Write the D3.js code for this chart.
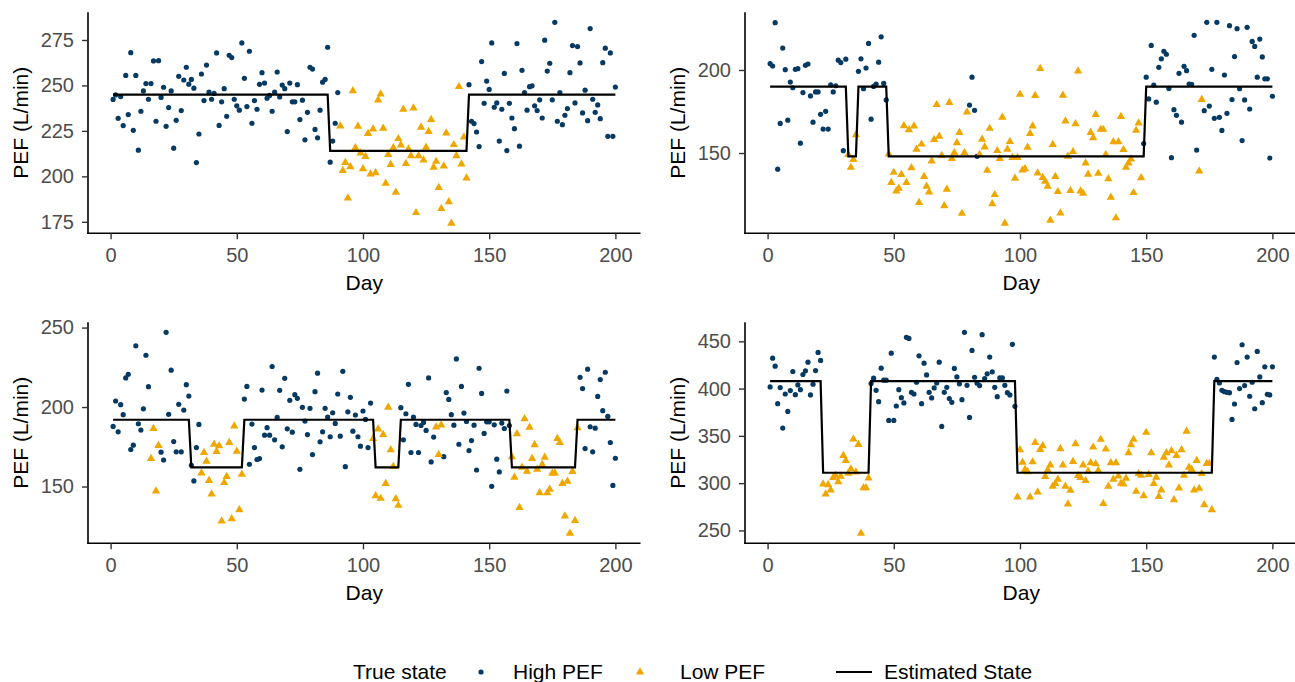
<!DOCTYPE html>
<html><head><meta charset="utf-8">
<script src="https://cdn.jsdelivr.net/npm/d3@7"></script>
<style>
body{margin:0;background:#fff}
svg{display:block}
text{font-family:"Liberation Sans",Arial,Helvetica,sans-serif}
</style>
</head><body>
<svg id="chart" width="1295" height="682"></svg>
<script>
// ---------------- data ----------------
const xTicks = [0, 50, 100, 150, 200];

const pef1 = [242.3,244.8,231.9,243.9,227.9,255.5,234,268,225.3,255.5,
214.4,235.8,247,251,242.4,251,263.5,230.3,263.6,243.4,
249,227.5,237.8,247,215.5,230.8,255,236.2,253,260,
250.7,253.3,248.5,207.6,223.3,256.3,241.7,261.2,246.3,242.4,
245.6,267.9,228,241,248.2,233,266.6,265.3,242.4,238.8,
236.4,273.4,253.9,238.4,268.8,229.2,241.7,236.9,250.6,257,
251.3,243,244.5,235.8,246.3,257.4,243.7,250.2,248.2,224.6,
251.3,241,241,250.4,231.2,241.9,220.1,235.2,260,259,
225.8,221.2,236.4,251.8,253.3,271,207.8,219.4,229.2,246.1,
227.7,203.2,207.6,188,205.2,247,215.7,227.5,212.8,204.1,
210.9,223.5,201.3,226,201.9,241.9,245.2,226.4,196.2,212,
206.5,215.7,191.2,220.7,217.2,236.9,207,215,211.3,237.6,
180,211.3,227,208.9,216,224.6,231.2,205,208.2,193.8,
182.2,205.6,223.8,186,174.2,217.4,211.3,249.3,206.7,221.6,
199.1,250.4,230.3,229,224.4,216.4,263.1,240.2,252.4,247.8,
273.4,238,240.4,219.4,236.9,256.6,214.2,240.2,232.1,226.2,
273,216.6,258.3,246.1,236.4,249.3,249.8,238.8,236.2,242.1,
232.1,274.9,257.9,262.2,242.1,284.7,230.3,246.1,228.4,233.6,
237.3,257,271.9,240.4,271.4,262.4,234.9,247.4,230.6,281.3,
242.4,235.2,239.3,231.7,262.5,270.5,222,267.9,222,249.1];
const true1 = [[1,90,"High"],[91,141,"Low"],[142,200,"High"]];
const est1 = [[1,86,245],[87,141,214],[142,200,245]];
const yTicks1 = [175,200,225,250,275];

const pef2 = [203.8,202.4,228.5,140.3,167.8,213.2,200.2,169.8,192.7,189.3,
200.4,200.8,155.9,186.4,202.8,203.6,184.4,168.6,186.8,186.8,
173.3,164.4,175.1,164.4,191.1,186.8,190.5,205.9,204.5,151.4,
206.5,149,141.3,146,160.9,199.2,206.7,188.7,201.2,216,
170.4,190.1,191.5,204.7,220,191.9,182,149.4,132.2,138.3,
127.1,128.7,137,166.4,132.2,164,141.1,166.2,152.2,120.2,
155.3,135.8,130,126.5,145.1,158.1,179.1,160.1,148.4,118.2,
128.1,180.4,146.6,150.2,156.1,162.3,113.6,150.2,174.7,178.9,
195.7,175.7,148,149,158.3,153.6,139.5,164.8,119.4,124.9,
151.4,146.6,171.5,107.7,152.2,156.9,147.2,134.8,147.2,185.4,
139.7,140.5,153.4,161.7,166.2,184.6,137.9,200.8,135.2,133,
130,109.5,155.1,135.8,126.7,113.8,184.8,169.2,148,127.3,
150.8,167.6,199.4,127.1,125.7,143.9,137.2,162.3,159.1,173.1,
137.7,164.2,164.2,149,134.4,123.3,156.7,110.9,156.7,171.9,
152,141.3,143.9,146.4,126.1,163.6,168,135,155.7,195.7,
182.6,214.8,190.9,180.6,201.6,206.7,211.3,209.5,188.9,147.2,
176.1,172.7,198,168.6,202.2,199.6,191.5,191.3,220.9,151.8,
139.1,182.2,175.5,228.7,178.3,200.4,170.9,228.7,171.5,163.6,
197,173.9,226.7,182.2,208.1,224.9,188.7,157.5,182,225.7,
176.5,217.2,214.2,195.7,218.6,207.9,194.7,194.7,147,184.2];
const true2 = [[1,31,"High"],[32,35,"Low"],[36,47,"High"],[48,79,"Low"],[80,83,"High"],[84,148,"Low"],[149,170,"High"],[171,172,"Low"],[173,200,"High"]];
const est2 = [[1,31,190],[32,35,148],[36,47,190],[48,149,148],[150,200,190]];
const yTicks2 = [150,200];

const pef3 = [187.8,203.8,184.4,201.5,195.2,218.3,220.6,173.3,176,238.5,
189.5,185.5,198.9,232.6,212.8,167.6,186.5,147.2,175.8,171.6,
166.7,247,195.4,223.2,178.3,171.8,201.7,171.8,198.1,214.1,
206.9,163.4,153.5,174.5,189.1,158.5,171.4,165.9,153.7,145.3,
176.6,172,175.6,128.2,152.4,156.2,177.7,129.7,188,172.2,
135.4,157.7,205,213,164,189.3,174.5,167,167.6,210.7,
182.3,187,182.3,225.5,179.4,193.5,210.5,175,218.1,186.3,
204.2,184.2,207.8,205.5,160.8,199.8,191.2,182.7,199.2,170.1,
209.7,221.3,178.1,184.4,199.2,193.7,181.3,196.4,189.7,208.2,
181.7,222.5,162.5,197,206.1,184.8,195,181.3,175.4,197.5,
192.2,174.5,202.5,180.2,144.2,186.1,142.5,182.7,151.8,199.8,
173.1,162.5,142.3,138.1,199.6,179.4,195.8,214.3,171.4,193.7,
189.1,171.4,188.4,190.3,185.3,218.3,165.5,181.1,187.4,170.1,
188.6,168.8,209.1,204.8,195.2,188.6,230.3,176.6,213,196.2,
190.9,172.6,178.9,188.6,160.4,224.4,208.6,183.4,190.7,190.7,
150.1,188.8,167.2,159.2,189.9,186.5,210.1,188.4,168.6,155.8,
183.2,136.8,162.1,192.6,159.6,187.2,167.6,176.2,160.8,146.1,
163.8,168.4,146.1,148.2,158.3,158.5,180.2,177.7,151.8,131.4,
153.3,120.6,159.4,128.6,186.9,218.7,211.6,173.9,223.8,187.6,
171.8,186.7,206.7,217.3,197.7,221.9,194.1,177.7,150.7,167.8];
const true3 = [[1,15,"High"],[16,19,"Low"],[20,35,"High"],[36,52,"Low"],[53,103,"High"],[104,114,"Low"],[115,128,"High"],[129,131,"Low"],[132,158,"High"],[159,185,"Low"],[186,200,"High"]];
const est3 = [[1,31,192],[32,52,162],[53,104,192],[105,114,162],[115,158,192],[159,184,162],[185,200,192]];
const yTicks3 = [150,200,250];

const pef4 = [401.8,432.2,423.7,384.1,401.1,358.2,394.3,375.9,397.9,418.1,
393.6,403.9,398.9,414.9,418.8,428,393.3,404.6,419.1,438.3,
429.8,299,288.4,298.3,292.7,305.8,308.3,301.5,307.2,329.2,
323.8,310.4,315,346.5,311.8,340.8,247,295.1,295.1,305.4,
405.3,411,398.2,386.2,421.6,408.9,408.9,366.3,437.5,366.3,
381.6,398.9,390.4,384.8,454.2,453.1,396.1,394.3,406.7,434.7,
384.1,426.9,414.5,396.1,390.1,400.7,406,428,360,396.1,
401.4,389.4,385.5,421.3,412.4,405,388.3,459.5,403.5,369.5,
440.4,412,405.7,403.2,457,410.6,415.6,433.3,417.7,401.4,
391.5,411.3,411.3,403.5,395.7,393.3,446.8,381.2,285.2,335.2,
322.1,314.3,312,285.2,322.4,343,290.5,335.5,339.4,306.8,
313.9,319.2,296.6,299.4,304,336.2,319.2,296.6,277.8,292.3,
322.8,341.6,307.9,305.8,319.2,302.6,312.5,321.4,338,320.3,
313.2,346.2,278.5,335.9,296.6,321.4,304,321.4,307.5,299.8,
299,305.1,332,340.5,346.2,291.2,310,308.3,286.6,353.6,
309,332,299.4,306.1,285.9,292.7,327.4,332,319.2,334.1,
282.4,329.2,294.8,335.2,308.3,354.7,316.8,314.3,292.7,323.8,
294.4,310,277.1,320.7,320.7,271.8,433.3,409.9,406,398.2,
396.8,396.1,395.7,367.4,383.7,427.6,400,446.4,403.2,433.3,
391.9,406.7,378.7,439.3,412.4,385.1,423,394,393.3,423];
const true4 = [[1,21,"High"],[22,40,"Low"],[41,98,"High"],[99,176,"Low"],[177,200,"High"]];
const est4 = [[1,21,408],[22,40,311],[41,98,408],[99,176,311],[177,200,408]];
const yTicks4 = [250,300,350,400,450];

const legendStates = ["High PEF", "Low PEF"];

// ---------------- layout / style ----------------
const COL_HIGH = "#073a62", COL_LOW = "#EFA700";
const FONT = 20, TFONT = 21;
const panels = [
  {vals: pef1, truth: true1, est: est1, ticks: yTicks1, left: 88,  right: 640.5,  top: 12.3,  bottom: 233.3},
  {vals: pef2, truth: true2, est: est2, ticks: yTicks2, left: 745, right: 1297.5, top: 12.3,  bottom: 233.3},
  {vals: pef3, truth: true3, est: est3, ticks: yTicks3, left: 88,  right: 640.5,  top: 322.3, bottom: 543.3},
  {vals: pef4, truth: true4, est: est4, ticks: yTicks4, left: 745, right: 1297.5, top: 322.3, bottom: 543.3}
];

const svg = d3.select("#chart");
svg.append("rect").attr("width",1295).attr("height",682).attr("fill","#fff");

function expand(segs){ const out=[]; segs.forEach(([a,b,v])=>{ for(let d=a; d<=b; d++) out.push(v); }); return out; }

panels.forEach(p => {
  const n = p.vals.length;
  const days = d3.range(1, n+1);
  const states = expand(p.truth);
  const estVals = expand(p.est);
  const pts = days.map((d,i)=>({day:d, v:p.vals[i], s:states[i]}));
  const allY = p.vals.concat(estVals);
  const [ymin, ymax] = d3.extent(allY);
  const yr = ymax - ymin;
  const xr = n - 1;
  const x = d3.scaleLinear().domain([1 - 0.05*xr, n + 0.05*xr]).range([p.left, p.right]);
  const y = d3.scaleLinear().domain([ymin - 0.05*yr, ymax + 0.05*yr]).range([p.bottom, p.top]);

  const g = svg.append("g");

  g.append("g").selectAll("circle").data(pts.filter(d=>d.s==="High")).join("circle")
    .attr("cx", d=>x(d.day)).attr("cy", d=>y(d.v)).attr("r", 2.6).attr("fill", COL_HIGH);
  const tri = d3.symbol().type(d3.symbolTriangle).size(30);
  g.append("g").selectAll("path").data(pts.filter(d=>d.s==="Low")).join("path")
    .attr("d", tri).attr("transform", d=>`translate(${x(d.day)},${y(d.v)})`).attr("fill", COL_LOW);

  const line = d3.line().x((d,i)=>x(days[i])).y(d=>y(d));
  g.append("path").datum(estVals).attr("d", line).attr("fill","none")
    .attr("stroke","#000").attr("stroke-width",2.2).attr("stroke-linejoin","miter");

  const xa = g.append("g").attr("transform",`translate(0,${p.bottom})`)
    .call(d3.axisBottom(x).tickValues(xTicks).tickSize(6).tickSizeOuter(0).tickPadding(9));
  const ya = g.append("g").attr("transform",`translate(${p.left},0)`)
    .call(d3.axisLeft(y).tickValues(p.ticks).tickSize(6).tickSizeOuter(0).tickPadding(8));
  [xa, ya].forEach(a => {
    a.select(".domain").attr("stroke","#000").attr("stroke-width",1.6);
    a.selectAll(".tick line").attr("stroke","#333").attr("stroke-width",1.4);
    a.selectAll(".tick text").attr("fill","#4D4D4D").style("font-size", FONT+"px")
      .style("font-family","'Liberation Sans',Arial,sans-serif");
  });
  xa.select(".domain").attr("d", `M${p.left-0.8},0H${p.right}`);
  ya.select(".domain").attr("d", `M0,${p.top}V${p.bottom+0.8}`);

  g.append("text").attr("x", (p.left+p.right)/2).attr("y", p.bottom + 57)
    .attr("text-anchor","middle").style("font-size",TFONT+"px").attr("fill","#000").text("Day");
  g.append("text").attr("transform", `translate(${p.left-60},${(p.top+p.bottom)/2}) rotate(-90)`)
    .attr("text-anchor","middle").style("font-size",TFONT+"px").attr("fill","#000").text("PEF (L/min)");
});

// ---------------- legend ----------------
const lg = svg.append("g");
const ly = 679, lc = 672;
lg.append("text").attr("x",353).attr("y",ly).style("font-size",TFONT+"px").text("True state");
lg.append("circle").attr("cx",481).attr("cy",lc).attr("r",2.6).attr("fill",COL_HIGH);
lg.append("text").attr("x",513).attr("y",ly).style("font-size",TFONT+"px").text(legendStates[0]);
lg.append("path").attr("d", d3.symbol().type(d3.symbolTriangle).size(30))
  .attr("transform",`translate(640,${lc})`).attr("fill",COL_LOW);
lg.append("text").attr("x",680).attr("y",ly).style("font-size",TFONT+"px").text(legendStates[1]);
lg.append("line").attr("x1",836).attr("x2",872).attr("y1",lc).attr("y2",lc).attr("stroke","#000").attr("stroke-width",2.2);
lg.append("text").attr("x",884).attr("y",ly).style("font-size",TFONT+"px").text("Estimated State");
</script>
</body></html>
